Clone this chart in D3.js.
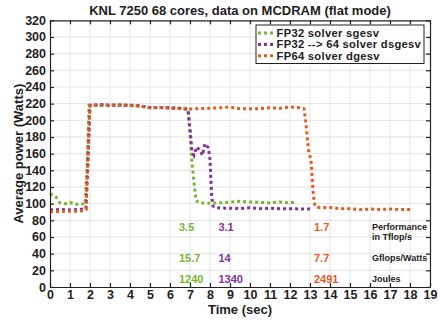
<!DOCTYPE html>
<html>
<head>
<meta charset="utf-8">
<script src="https://cdn.jsdelivr.net/npm/d3@7"></script>
<style>
  body { margin: 0; background: #fff; }
  svg { font-family: "Liberation Sans", Arial, sans-serif; font-weight: bold; }
  .grid line { stroke: #e3e3e3; stroke-width: 1; }
  .axis path, .axis line { stroke: #222; stroke-width: 1.2; }
  .axis text { fill: #222; font-size: 12.5px; font-weight: bold; }
</style>
</head>
<body>
<svg id="chart" width="440" height="320"></svg>
<script>
// series names and colours
const seriesNames = ["FP32 solver sgesv", "FP32 --> 64 solver dsgesv", "FP64 solver dgesv"];
const seriesColors = ["#79B434", "#82339A", "#E45A1F"];

// FP32 solver sgesv (time in sec, power in Watts)
const sgesvTime = [0, 0.3, 0.5, 0.75, 1.0, 1.25, 1.5, 1.75, 1.85, 1.95, 2.5, 3, 3.5, 4, 4.5, 5, 5.5, 6, 6.5, 6.9,
  7.0, 7.1, 7.2, 7.3, 7.45, 8, 8.5, 9, 9.5, 10, 10.5, 11, 11.5, 12, 12.3];
const sgesvPower = [112, 108, 101, 100, 101.5, 99, 100, 99.5, 140, 218, 218, 217.5, 218.5, 217.5, 217, 215, 215.5, 215, 214.5, 214,
  185, 150, 125, 104, 101, 100.5, 101, 102, 103, 102, 101.5, 101, 102, 101, 102];

// FP32 --> 64 solver dsgesv
const dsgesvTime = [0, 0.5, 1, 1.5, 1.8, 1.9, 2.0, 2.5, 3, 3.5, 4, 4.5, 5, 5.5, 6, 6.5, 6.9, 7.0, 7.1, 7.2,
  7.33, 7.5, 7.62, 7.75, 7.92, 8.0, 8.08, 8.15, 8.3, 9, 9.5, 10, 10.5, 11, 11.5, 12, 12.5, 13.1];
const dsgesvPower = [92.5, 93, 92.5, 93, 94, 150, 218, 219, 218, 218.5, 218, 217.5, 215.5, 215, 215, 214.5, 213, 190, 162, 158,
  168, 164, 158, 172, 167, 153, 110, 97, 95, 94.5, 94, 95, 94, 94.5, 94, 94, 93.5, 93.5];

// FP64 solver dgesv
const dgesvTime = [0, 0.5, 1, 1.5, 1.8, 1.88, 2.0, 2.5, 3, 3.5, 4, 4.5, 5, 5.5, 6, 6.5, 7, 7.5, 8, 8.5,
  9, 9.5, 10, 10.5, 11, 11.5, 12, 12.5, 12.7, 12.8, 12.92, 13.05, 13.1, 13.17, 13.25, 13.5, 14, 14.5, 15, 15.5,
  16, 16.5, 17, 17.5, 18.1];
const dgesvPower = [90.5, 90.5, 91, 91, 93, 150, 218, 218, 218.5, 218, 218, 217, 215, 215.5, 214.5, 214, 213.5, 214, 214.5, 215,
  216, 214, 214, 214, 215, 214.5, 216, 215, 214, 196, 165, 152, 135, 110, 97, 95, 95.5, 94, 94, 93,
  93.5, 93, 93.5, 93, 93];

// annotation numbers (one per series) and row labels
const perfValues = ["3.5", "3.1", "1.7"];
const effValues = ["15.7", "14", "7.7"];
const jouleValues = ["1240", "1340", "2491"];
const rowLabels = [["Performance", "in Tflop/s"], ["Gflops/Watts"], ["Joules"]];

// tick values
const xTicks = d3.range(0, 20, 1);
const yTicks = d3.range(0, 340, 20);

const svg = d3.select("#chart");
const plotLeft = 50, plotRight = 430, plotTop = 20.3, plotBottom = 287;

const x = d3.scaleLinear().domain([0, 19]).range([plotLeft, plotRight]);
const y = d3.scaleLinear().domain([0, 320]).range([plotBottom, plotTop]);

// grid
const grid = svg.append("g").attr("class", "grid");
grid.selectAll(".gx").data(xTicks.slice(1, -1)).enter().append("line")
  .attr("x1", d => x(d)).attr("x2", d => x(d)).attr("y1", plotTop).attr("y2", plotBottom);
grid.selectAll(".gy").data(yTicks.slice(1, -1)).enter().append("line")
  .attr("y1", d => y(d)).attr("y2", d => y(d)).attr("x1", plotLeft).attr("x2", plotRight);

// lines
const series = [
  { t: sgesvTime, p: sgesvPower },
  { t: dsgesvTime, p: dsgesvPower },
  { t: dgesvTime, p: dgesvPower }
];
const line = d3.line().x(d => x(d[0])).y(d => y(d[1]));
series.forEach((s, i) => {
  const pts = s.t.map((t, j) => [t, s.p[j]]);
  svg.append("path")
    .datum(pts)
    .attr("d", line)
    .attr("fill", "none")
    .attr("stroke", seriesColors[i])
    .attr("stroke-width", 3)
    .attr("stroke-dasharray", "3,3");
});

// axes (ticks point inward on all sides)
svg.append("g").attr("class", "axis")
  .attr("transform", "translate(0," + plotBottom + ")")
  .call(d3.axisBottom(x).tickValues(xTicks).tickSizeInner(-4).tickSizeOuter(0).tickPadding(3))
  .selectAll("text").attr("dy", "0.71em");
svg.append("g").attr("class", "axis")
  .attr("transform", "translate(0," + plotTop + ")")
  .call(d3.axisTop(x).tickValues(xTicks).tickSizeInner(-4).tickSizeOuter(0).tickFormat(""));
svg.append("g").attr("class", "axis")
  .attr("transform", "translate(" + plotLeft + ",0)")
  .call(d3.axisLeft(y).tickValues(yTicks).tickSizeInner(-4).tickSizeOuter(0).tickPadding(4));
svg.append("g").attr("class", "axis")
  .attr("transform", "translate(" + plotRight + ",0)")
  .call(d3.axisRight(y).tickValues(yTicks).tickSizeInner(-4).tickSizeOuter(0).tickFormat(""));

// annotations
const rowY = [72, 35, 10];
const colX = [6.45, 8.42, 13.2];
[perfValues, effValues, jouleValues].forEach((vals, r) => {
  vals.forEach((v, i) => {
    svg.append("text")
      .attr("x", x(colX[i]))
      .attr("y", y(rowY[r]) + 4)
      .attr("fill", seriesColors[i])
      .style("font-size", "11px")
      .text(v);
  });
});
rowLabels.forEach((lines, r) => {
  lines.forEach((l, k) => {
    svg.append("text")
      .attr("x", x(16.1))
      .attr("y", y(rowY[r]) + 3 + k * 10.5)
      .attr("fill", "#222")
      .style("font-size", "9px")
      .text(l);
  });
});

// title and axis labels
svg.append("text")
  .attr("x", 240).attr("y", 15)
  .attr("text-anchor", "middle")
  .attr("fill", "#222")
  .style("font-size", "13px")
  .text("KNL 7250 68 cores, data on MCDRAM (flat mode)");

svg.append("text")
  .attr("x", 240).attr("y", 314)
  .attr("text-anchor", "middle")
  .attr("fill", "#222")
  .style("font-size", "13px")
  .text("Time (sec)");

svg.append("text")
  .attr("transform", "translate(23," + ((plotTop + plotBottom) / 2) + ") rotate(-90)")
  .attr("text-anchor", "middle")
  .attr("fill", "#222")
  .style("font-size", "13px")
  .text("Average power (Watts)");

// legend
const legend = svg.append("g").attr("transform", "translate(256,25)");
legend.append("rect")
  .attr("width", 168).attr("height", 38.5)
  .attr("fill", "#fff").attr("stroke", "#222").attr("stroke-width", 1);
seriesNames.forEach((name, i) => {
  const ly = 8 + i * 11.4;
  legend.append("line")
    .attr("x1", 2).attr("x2", 19).attr("y1", ly).attr("y2", ly)
    .attr("stroke", seriesColors[i]).attr("stroke-width", 3)
    .attr("stroke-dasharray", "3,3");
  legend.append("text")
    .attr("x", 20.5).attr("y", ly + 4)
    .attr("fill", "#222")
    .style("font-size", "11.2px")
    .style("letter-spacing", "0.3px")
    .text(name);
});
</script>
</body>
</html>
